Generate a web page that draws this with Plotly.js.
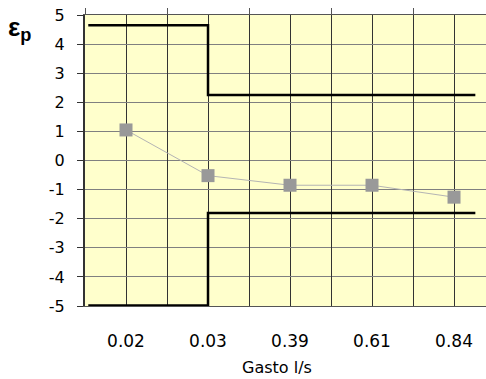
<!DOCTYPE html>
<html>
<head>
<meta charset="utf-8">
<script src="https://cdn.plot.ly/plotly-3.0.1.min.js"></script>
<style>html,body{margin:0;padding:0;overflow:hidden;background:#fff;}</style>
</head>
<body>
<div id="chart" style="width:486px;height:379px;"></div>
<script>
// Categories (flow, l/s) and measured relative error (%)
const categories = ['0.02', '0.03', '0.39', '0.61', '0.84'];
const errorValues = [1.05, -0.52, -0.85, -0.85, -1.26];

// Step-shaped tolerance limits (position along category axis, value)
const limitX = [-0.46, 1, 1, 4.26];
const upperLimit = [4.65, 4.65, 2.25, 2.25];
const lowerLimit = [-4.98, -4.98, -1.8, -1.8];

// Y tick values and labels (plain hyphen minus, as in the reference)
const yTickVals = [-5, -4, -3, -2, -1, 0, 1, 2, 3, 4, 5];
const yTickText = ['-5', '-4', '-3', '-2', '-1', '0', '1', '2', '3', '4', '5'];

// Bin edges (for gridlines and top tick marks)
const binEdges = [-0.5, 0.5, 1.5, 2.5, 3.5];

const FONT = 'DejaVu Sans, Arial, sans-serif';
const xRange = [-0.5, 4.39];

const traces = [
  {
    x: limitX, y: upperLimit, xaxis: 'x2', yaxis: 'y',
    mode: 'lines', line: {color: '#000000', width: 2.5},
    hoverinfo: 'skip', showlegend: false
  },
  {
    x: limitX, y: lowerLimit, xaxis: 'x2', yaxis: 'y',
    mode: 'lines', line: {color: '#000000', width: 2.5},
    hoverinfo: 'skip', showlegend: false
  },
  {
    x: categories, y: errorValues, xaxis: 'x', yaxis: 'y',
    mode: 'lines+markers',
    line: {color: '#b4b4b4', width: 1},
    marker: {symbol: 'square', size: 13, color: '#999999'},
    showlegend: false
  }
];

const layout = {
  width: 486, height: 379,
  margin: {l: 85, r: 0, t: 15, b: 73},
  paper_bgcolor: '#ffffff',
  plot_bgcolor: '#ffffcc',
  showlegend: false,
  font: {family: FONT, color: '#000000'},
  xaxis: {
    type: 'category',
    categoryorder: 'array', categoryarray: categories,
    range: xRange,
    showgrid: true, gridcolor: '#333333', gridwidth: 1,
    showline: true, linecolor: '#555555', linewidth: 1,
    ticks: '', tickfont: {size: 17, family: FONT, color: '#000000'},
    ticklabelstandoff: 20,
    zeroline: false, fixedrange: true
  },
  xaxis2: {
    overlaying: 'x', side: 'top', anchor: 'y',
    range: xRange, type: 'linear',
    tickmode: 'array', tickvals: binEdges,
    ticks: 'outside', ticklen: 6, tickcolor: '#555555',
    showticklabels: false,
    showgrid: true, gridcolor: '#333333', gridwidth: 1,
    showline: true, linecolor: '#555555', linewidth: 1,
    zeroline: false, fixedrange: true
  },
  yaxis: {
    range: [-5, 5], tickmode: 'array', tickvals: yTickVals, ticktext: yTickText,
    ticks: 'outside', ticklen: 6, tickcolor: '#333333',
    showline: true, linecolor: '#333333', linewidth: 2,
    showgrid: true, gridcolor: '#808080', gridwidth: 1,
    zeroline: false,
    tickfont: {size: 16, family: FONT, color: '#000000'},
    ticklabelstandoff: 9, fixedrange: true
  },
  annotations: [
    {
      text: 'Gasto l/s', xref: 'x2', yref: 'paper', x: 1.84, y: -0.21,
      xanchor: 'center', yanchor: 'middle', showarrow: false,
      font: {size: 16, family: FONT, color: '#000000'}
    },
    {
      text: '<b>ε<sub>p</sub></b>', xref: 'paper', yref: 'paper',
      x: -0.196, y: 0.955, xanchor: 'left', yanchor: 'middle', showarrow: false,
      font: {size: 26, family: 'Liberation Sans, Arial, sans-serif', color: '#000000'}
    }
  ]
};

Plotly.newPlot('chart', traces, layout, {staticPlot: true, displayModeBar: false});
</script>
</body>
</html>
